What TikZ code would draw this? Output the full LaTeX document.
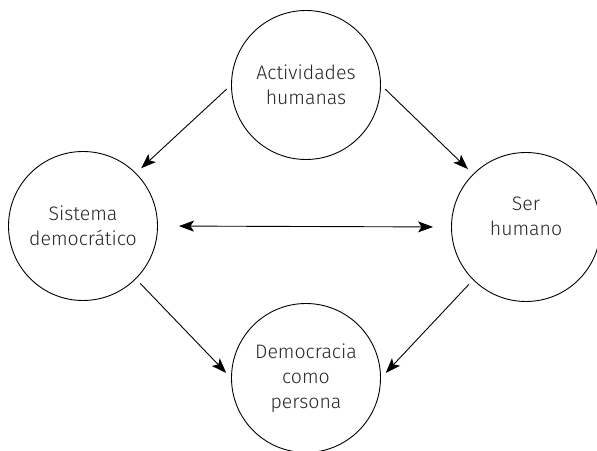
\documentclass[tikz,border=0pt]{standalone}
\usepackage{fontspec}
\setmainfont{Fira Sans Light}
\usetikzlibrary{arrows.meta}
\begin{document}
\begin{tikzpicture}[x=1pt,y=1pt,
  txt/.style={align=center,font=\fontsize{19.5}{25}\selectfont,text=black!85},
  bubble/.style={circle,draw=black,line width=0.9pt,minimum size=149pt,inner sep=0pt,txt},
  tip/.style={Stealth[length=15pt,width=11pt,inset=3.5pt]},
  link/.style={line width=0.9pt,-{Stealth[length=15pt,width=11pt,inset=3.5pt]},shorten >=7pt,shorten <=6pt}]
\useasboundingbox (0,0) rectangle (597,450);
\clip (0,0) rectangle (597,450);
\node[bubble] (top) at (306,365) {Actividades\\humanas};
\node[bubble] (left) at (83,224) {Sistema\\democrático};
\node[bubble] (right) at (526,223) {};
\node[txt] (rtext) at (526,234) {Ser\\humano};
\node[bubble] (bottom) at (306,72) {Democracia\\como\\persona};
\draw[link] (top.180) -- (left.45);
\draw[link] (top.0) -- (right.135);
\draw[link] (left.-45) -- (bottom.180);
\draw[link] (right.-135) -- (bottom.0);
\draw[line width=0.9pt,{Stealth[length=15pt,width=11pt,inset=3.5pt]}-{Stealth[length=15pt,width=11pt,inset=3.5pt]},shorten >=18pt,shorten <=21pt] (left.east) -- (right.west);
\end{tikzpicture}
\end{document}
